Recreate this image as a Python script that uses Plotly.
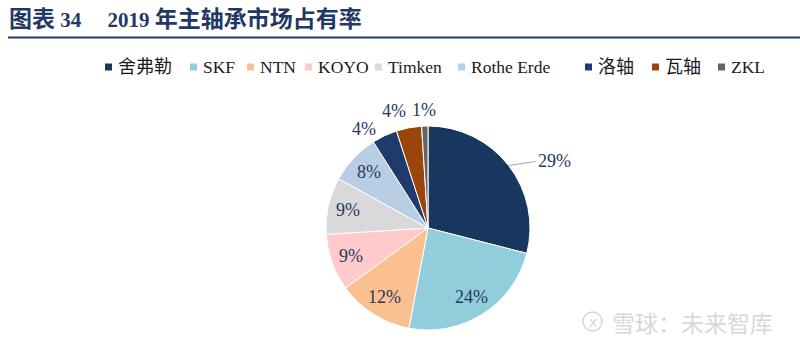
import math
import plotly.graph_objects as go

W, H = 800, 354

companies = ["舍弗勒", "SKF", "NTN", "KOYO", "Timken", "Rothe Erde", "洛轴", "瓦轴", "ZKL"]
shares = [29, 24, 12, 9, 9, 8, 4, 4, 1]
colors = ["#17375E", "#92CDDC", "#FAC090", "#FFCACA", "#D9D9D9", "#B9CDE5", "#1F3B6E", "#9C450A", "#646464"]
inside = [False, True, True, True, True, True, False, False, False]
legend_x = [105, 190, 247, 305, 375, 458, 585, 652, 718]  # legend square left edges (px)
# pixel nudges for the small outside labels (style only)
outside_nudge = {6: (-13, 10), 7: (-12, 1), 8: (0, 2)}

label_color = "#1F3864"
LABEL_FONT = "Liberation Serif, Noto Sans CJK SC"
CJK = "font-size:23px"
title_text = (f"<b><span style='{CJK}'>图表</span> 34&nbsp;&nbsp;&nbsp;&nbsp; 2019 "
              f"<span style='{CJK}'>年主轴承市场占有率</span></b>")


def px(x):
    return x / W


def py(y):
    return 1 - y / H


fig = go.Figure()
cx, cy, r = 428, 228, 102
fig.add_trace(go.Pie(
    labels=companies,
    values=shares,
    sort=False,
    direction="clockwise",
    rotation=0,
    marker=dict(colors=colors, line=dict(color="white", width=1)),
    textinfo="none",
    domain=dict(x=[px(cx - 150), px(cx + 150)], y=[py(cy + r), py(cy - r)]),
    showlegend=False,
    hoverinfo="label+percent",
))

shapes = [dict(type="line", xref="paper", yref="paper", x0=px(8), x1=1, y0=py(37.5), y1=py(37.5),
               line=dict(color="#1F3864", width=2))]
annotations = [dict(text=title_text, xref="paper", yref="paper", x=px(7), y=py(19),
                    xanchor="left", yanchor="middle", showarrow=False,
                    font=dict(family="Liberation Serif, Noto Sans CJK SC", size=21, color="#1F3864"))]

# data labels placed from the slice angles
total = sum(shares)
cum = 0
mids = []
for v in shares:
    mids.append((cum + v / 2) / total * 2 * math.pi)
    cum += v

for i, a in enumerate(mids):
    if inside[i]:
        rho = 0.8 * r
        lx, ly = cx + rho * math.sin(a), cy - rho * math.cos(a)
        annotations.append(dict(text=f"{shares[i]}%", xref="paper", yref="paper", x=px(lx), y=py(ly),
                                xanchor="center", yanchor="middle", showarrow=False,
                                font=dict(family=LABEL_FONT, size=18, color=label_color)))

a0 = mids[0]
ex, ey = cx + r * math.sin(a0), cy - r * math.cos(a0)
annotations.append(dict(text=f"{shares[0]}%", xref="paper", yref="paper", x=px(ex), y=py(ey),
                        ax=27, ay=-4, xanchor="left", yanchor="middle", showarrow=True,
                        arrowhead=0, arrowwidth=1.2, arrowcolor="#A6A6A6", standoff=0,
                        font=dict(family=LABEL_FONT, size=18, color=label_color)))
for i, (dx, dy) in outside_nudge.items():
    a = mids[i]
    lx, ly = cx + (r + 18) * math.sin(a) + dx, cy - (r + 18) * math.cos(a) + dy
    annotations.append(dict(text=f"{shares[i]}%", xref="paper", yref="paper", x=px(lx), y=py(ly),
                            xanchor="center", yanchor="middle", showarrow=False,
                            font=dict(family=LABEL_FONT, size=18, color=label_color)))

for name, col, lx in zip(companies, colors, legend_x):
    shapes.append(dict(type="rect", xref="paper", yref="paper", x0=px(lx), x1=px(lx + 7),
                       y0=py(70.5), y1=py(63.5), fillcolor=col, line=dict(width=0)))
    is_cjk = any(ord(c) > 0x2E80 for c in name)
    annotations.append(dict(text=name, xref="paper", yref="paper", x=px(lx + 11), y=py(67.5),
                            xanchor="left", yanchor="middle", showarrow=False,
                            font=dict(family="Liberation Serif, Noto Sans CJK SC",
                                      size=18 if is_cjk else 17.5, color="#1A1A1A")))

# watermark
shapes.append(dict(type="circle", xref="paper", yref="paper", x0=px(583), x1=px(602),
                   y0=py(331), y1=py(312), line=dict(color="#D6D6D6", width=1.5)))
annotations.append(dict(text="x", xref="paper", yref="paper", x=px(592.5), y=py(321),
                        xanchor="center", yanchor="middle", showarrow=False,
                        font=dict(family="Noto Sans", size=15, color="#D6D6D6")))
annotations.append(dict(text="雪球：未来智库", xref="paper", yref="paper", x=px(610), y=py(322),
                        xanchor="left", yanchor="middle", showarrow=False,
                        font=dict(family="Noto Sans CJK SC", size=23, color="#D8D8D8")))

fig.update_layout(
    width=W, height=H,
    margin=dict(l=0, r=0, t=0, b=0),
    paper_bgcolor="white", plot_bgcolor="white",
    shapes=shapes, annotations=annotations,
)

fig.write_html("out.html")
